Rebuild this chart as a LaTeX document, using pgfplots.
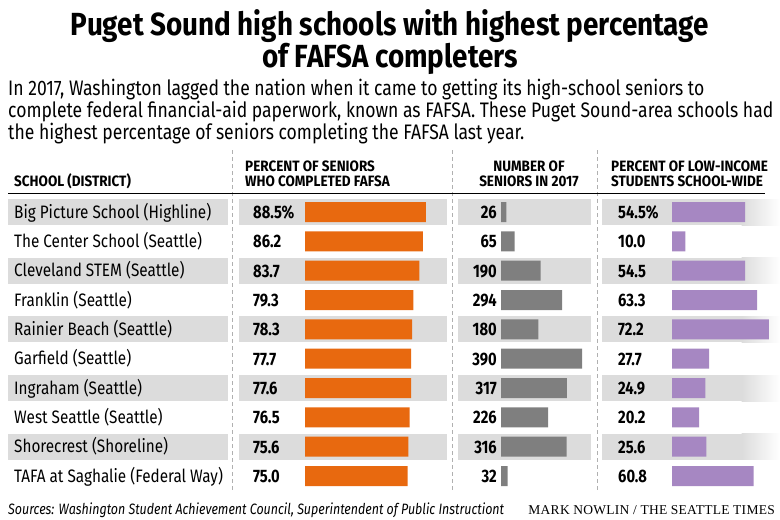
\documentclass[border=0pt]{standalone}
\usepackage{pgfplots}
\pgfplotsset{compat=1.18}
\usepackage{fontspec}
\setmainfont{Fira Sans}
\newfontfamily\cond{Fira Sans}[FakeStretch=0.85]
\newfontfamily\scond{Fira Sans}[FakeStretch=0.836]
\newfontfamily\hcond{Fira Sans}[FakeStretch=0.9]
\newfontfamily\vcond{Fira Sans}[FakeStretch=0.82]
\newfontfamily\fcond{Fira Sans}[FakeStretch=0.83]
\newfontfamily\titlef{Fira Sans}[FakeStretch=0.87]
\newfontfamily\serifcaps{Liberation Serif}[LetterSpace=2]
\definecolor{band}{HTML}{DCDCDC}
\definecolor{forange}{HTML}{E8690F}
\definecolor{fgray}{HTML}{7F7F7F}
\definecolor{fpurple}{HTML}{A687C2}
\definecolor{dashc}{HTML}{B0B0B0}
\pgfplotsset{colaxis/.style={scale only axis, anchor=north west, height=293.333pt,
  ymin=0.5, ymax=10.5, y dir=reverse, xmin=0, xbar, bar width=20pt,
  axis line style={draw=none}, xtick=\empty, ytick={1,...,10}, major tick length=0pt,
  clip=false,
  yticklabel style={font=\vcond\bfseries\fontsize{18}{20}\selectfont, inner sep=0pt, text=black}}}
\begin{document}
\begin{tikzpicture}
\useasboundingbox (0,0) rectangle (780pt,-520pt);
\begin{scope}[x=1pt,y=-1pt]
% bands
\foreach \i in {0,2,4,6,8} {
  \pgfmathsetmacro\c{212+\i*29.3333}
  \fill[band] (8,\c-13) rectangle (228,\c+13);
  \fill[band] (239,\c-13) rectangle (447,\c+13);
  \fill[band] (458,\c-13) rectangle (591,\c+13);
  \fill[band] (602,\c-13) rectangle (742,\c+13);
  \shade[left color=band, right color=white] (741.5,\c-13) rectangle (780,\c+13);
}
% dashed separators
\foreach \x in {232,452,597} {
  \draw[dashc, line width=0.8pt, dash pattern=on 4pt off 3pt] (\x,150) -- (\x,490);
}
\draw[black, line width=1.2pt] (8,193.5) -- (765,193.5);
% title
\node[anchor=base, inner sep=0, font=\titlef\bfseries\fontsize{32}{34}\selectfont] at (390,35) {Puget Sound high schools with highest percentage};
\node[anchor=base, inner sep=0, font=\titlef\bfseries\fontsize{32}{34}\selectfont] at (390,67) {of FAFSA completers};
% subtitle
\begin{scope}[every node/.style={anchor=base west, inner sep=0, font=\scond\fontsize{21}{24}\selectfont}]
\node at (8,95) {In 2017, Washington lagged the nation when it came to getting its high-school seniors to};
\node at (8,117) {complete federal financial-aid paperwork, known as FAFSA. These Puget Sound-area schools had};
\node at (8,139) {the highest percentage of seniors completing the FAFSA last year.};
\end{scope}
% headers
\begin{scope}[every node/.style={inner sep=0, font=\hcond\bfseries\fontsize{15}{17}\selectfont}]
\node[anchor=base west] at (14,186) {SCHOOL (DISTRICT)};
\node[anchor=base west] at (245,171) {PERCENT OF SENIORS};
\node[anchor=base west] at (245,186) {WHO COMPLETED FAFSA};
\node[anchor=base] at (529,171) {NUMBER OF};
\node[anchor=base] at (529,186) {SENIORS IN 2017};
\node[anchor=base west] at (611,171) {PERCENT OF LOW-INCOME};
\node[anchor=base west] at (611,186) {STUDENTS SCHOOL-WIDE};
\end{scope}
% school names
\begin{scope}[every node/.style={anchor=base west, inner sep=0, font=\cond\fontsize{18}{20}\selectfont}]
\node at (14,218) {Big Picture School (Highline)};
\node at (14,247.33) {The Center School (Seattle)};
\node at (14,276.67) {Cleveland STEM (Seattle)};
\node at (14,306) {Franklin (Seattle)};
\node at (14,335.33) {Rainier Beach (Seattle)};
\node at (14,364.67) {Garfield (Seattle)};
\node at (14,394) {Ingraham (Seattle)};
\node at (14,423.33) {West Seattle (Seattle)};
\node at (14,452.67) {Shorecrest (Shoreline)};
\node at (14,482) {TAFA at Saghalie (Federal Way)};
\end{scope}
% footer
\node[anchor=base west, inner sep=0, font=\fcond\itshape\fontsize{15}{17}\selectfont] at (8,514) {Sources: Washington Student Achievement Council, Superintendent of Public Instructiont};
\node[anchor=base east, inner sep=0, font=\serifcaps\fontsize{13.5}{15}\selectfont] at (775,514) {MARK NOWLIN / THE SEATTLE TIMES};
\end{scope}
% percent completing FAFSA
\begin{axis}[colaxis, at={(305pt,-197.333pt)}, width=136.7pt, xmax=100,
  yticklabels={88.5\%,86.2,83.7,79.3,78.3,77.7,77.6,76.5,75.6,75.0},
  yticklabel style={anchor=base west, xshift=-52pt, yshift=-6.5pt}]
\addplot[fill=forange, draw=none] coordinates {(88.5,1) (86.2,2) (83.7,3) (79.3,4) (78.3,5) (77.7,6) (77.6,7) (76.5,8) (75.6,9) (75.0,10)};
\end{axis}
% number of seniors
\begin{axis}[colaxis, at={(501pt,-197.333pt)}, width=83.2pt, xmax=400,
  yticklabels={26,65,190,294,180,390,317,226,316,32},
  yticklabel style={anchor=base east, xshift=-4pt, yshift=-6.5pt}]
\addplot[fill=fgray, draw=none] coordinates {(26,1) (65,2) (190,3) (294,4) (180,5) (390,6) (317,7) (226,8) (316,9) (32,10)};
\end{axis}
% low income
\begin{axis}[colaxis, at={(672pt,-197.333pt)}, width=134.3pt, xmax=100,
  yticklabels={54.5\%,10.0,54.5,63.3,72.2,27.7,24.9,20.2,25.6,60.8},
  yticklabel style={anchor=base west, xshift=-54pt, yshift=-6.5pt}]
\addplot[fill=fpurple, draw=none] coordinates {(54.5,1) (10.0,2) (54.5,3) (63.3,4) (72.2,5) (27.7,6) (24.9,7) (20.2,8) (25.6,9) (60.8,10)};
\end{axis}
\end{tikzpicture}
\end{document}
